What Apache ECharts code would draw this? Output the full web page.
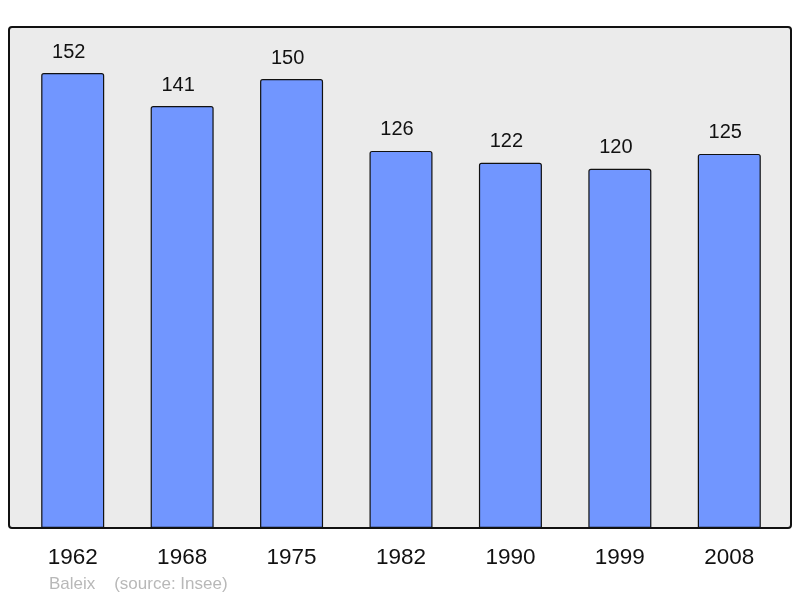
<!DOCTYPE html>
<html>
<head>
<meta charset="utf-8">
<style>
  html, body { margin: 0; padding: 0; background: #fff; }
  #chart { width: 800px; height: 598px; }
</style>
<script src="https://cdn.jsdelivr.net/npm/echarts@6/dist/echarts.min.js"></script>
</head>
<body>
<div id="chart"></div>
<script>
var years = ['1962', '1968', '1975', '1982', '1990', '1999', '2008'];
var population = [152, 141, 150, 126, 122, 120, 125];
var commune = 'Baleix';
var source = '(source: Insee)';

var chart = echarts.init(document.getElementById('chart'));

var option = {
  animation: false,
  backgroundColor: '#fff',
  textStyle: { fontFamily: 'Liberation Sans, Arial, sans-serif' },
  graphic: [
    {
      type: 'rect',
      z: -10,
      silent: true,
      shape: { x: 9, y: 27, width: 782, height: 501, r: 3 },
      style: { fill: '#ebebeb', stroke: '#111', lineWidth: 2 }
    },
    {
      type: 'text',
      left: 49,
      top: 576,
      style: {
        text: commune + '    ' + source,
        fill: '#b8b8b8',
        font: '17px Liberation Sans, Arial, sans-serif'
      }
    }
  ],
  grid: { left: 18, right: 16, top: 27, bottom: 70 },
  xAxis: {
    type: 'category',
    data: years,
    axisLine: { show: false },
    axisTick: { show: false },
    axisLabel: {
      color: '#111',
      fontSize: 22.5,
      margin: 18
    }
  },
  yAxis: {
    type: 'value',
    min: 0,
    max: 167.4,
    show: false,
    splitLine: { show: false }
  },
  series: [{
    type: 'bar',
    data: population,
    barWidth: 63,
    itemStyle: {
      color: '#7196ff',
      borderColor: '#111',
      borderWidth: 1.2,
      borderRadius: [2, 2, 0, 0]
    },
    label: {
      show: true,
      position: 'top',
      distance: 11,
      offset: [-4, 0],
      color: '#111',
      fontSize: 20
    }
  }]
};

chart.setOption(option);
</script>
</body>
</html>
